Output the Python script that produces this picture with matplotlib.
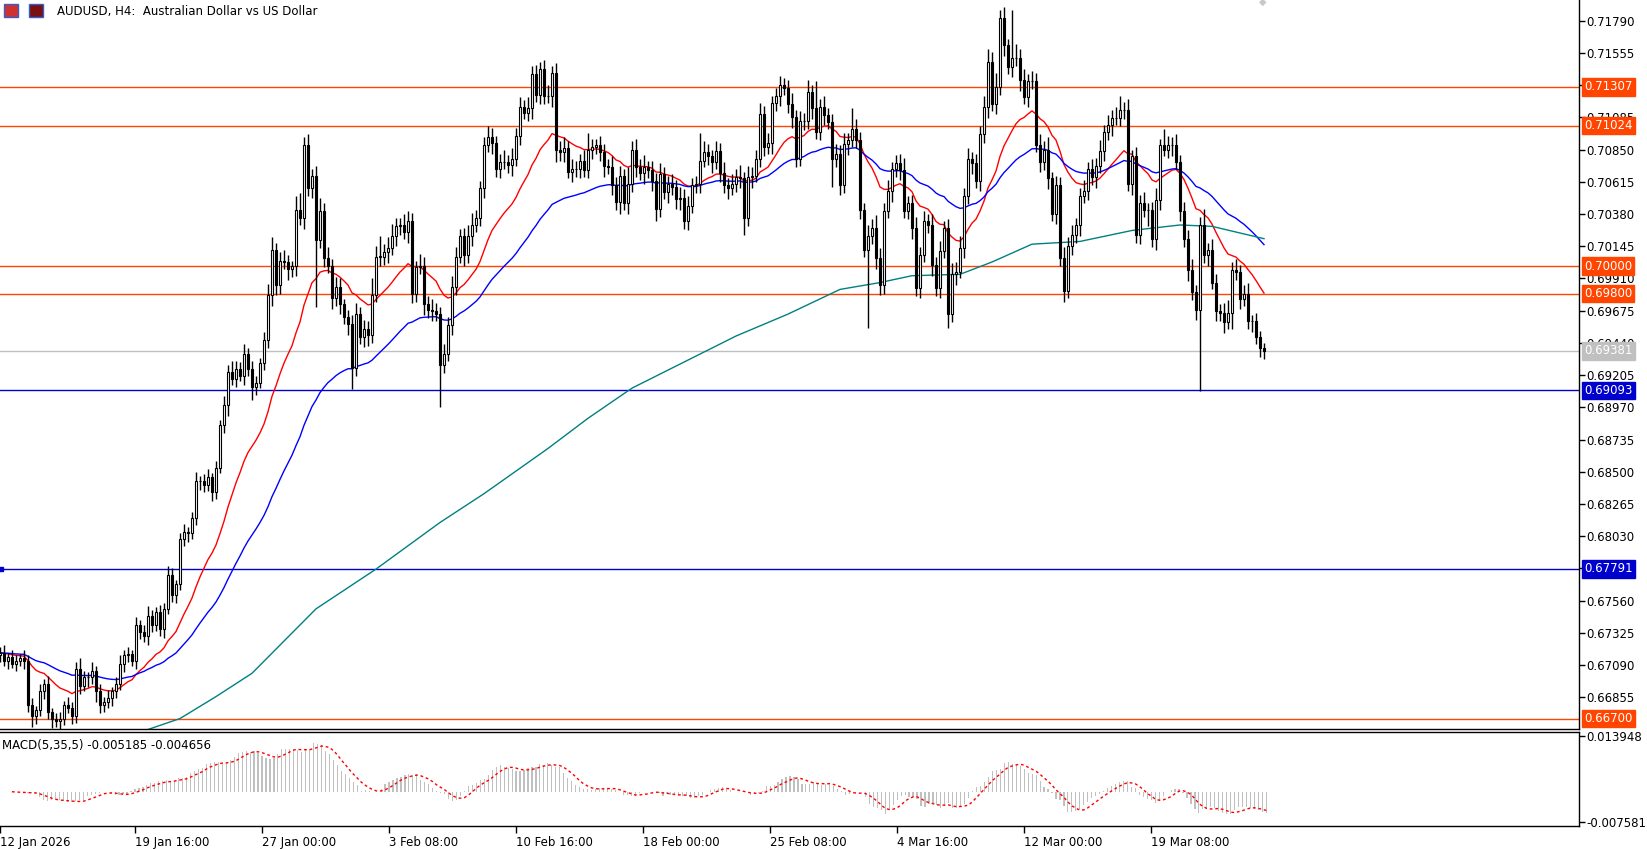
import numpy as np
import pandas as pd
import matplotlib
matplotlib.use("Agg")
import matplotlib.pyplot as plt
from matplotlib.patches import Rectangle

# ---------------- data (prices in 1/10000) ----------------
first_index = 3
closes = [
    6718,6712,6715,6710,6712,6714,6712,6680,6672,6676,
    6690,6695,6675,6670,6668,6670,6680,6678,6672,6706,
    6694,6700,6700,6705,6690,6680,6682,6685,6690,6695,
    6710,6716,6717,6712,6738,6733,6730,6745,6738,6748,
    6735,6750,6775,6760,6768,6801,6806,6805,6816,6843,
    6843,6840,6846,6835,6853,6884,6899,6923,6918,6925,
    6920,6936,6925,6912,6915,6929,6946,6979,7012,6986,
    7004,7003,6998,7000,7041,7035,7088,7057,7066,7019,
    7040,7006,7000,6977,6985,6972,6963,6958,6926,6965,
    6948,6954,6950,6979,7007,7007,7010,7013,7022,7029,
    7030,7025,7033,6980,6999,7000,6972,6968,6967,6965,
    6928,6936,6957,6985,7007,7022,7008,7022,7030,7035,
    7057,7088,7094,7090,7071,7076,7076,7074,7078,7095,
    7116,7112,7115,7140,7125,7144,7124,7124,7141,7085,
    7083,7086,7069,7071,7071,7077,7070,7085,7087,7088,
    7083,7073,7072,7059,7047,7066,7046,7060,7085,7072,
    7068,7072,7070,7062,7042,7067,7054,7060,7058,7049,
    7050,7033,7044,7059,7060,7077,7083,7080,7076,7084,
    7068,7059,7057,7060,7065,7064,7035,7065,7066,7078,
    7111,7087,7090,7119,7124,7132,7130,7118,7109,7078,
    7106,7106,7127,7115,7098,7116,7110,7105,7078,7082,
    7059,7089,7092,7100,7092,7041,7012,7022,7028,7006,
    6986,7040,7055,7071,7075,7070,7040,7046,7028,6984,
    7008,7033,7030,7001,6984,7011,7028,6965,6994,6996,
    7013,7051,7078,7075,7062,7096,7116,7149,7118,7131,
    7181,7161,7145,7152,7152,7136,7123,7135,7135,7088,
    7076,7085,7064,7038,7059,7006,6982,7015,7023,7030,
    7051,7055,7071,7065,7073,7084,7098,7103,7108,7108,
    7114,7114,7060,7080,7023,7046,7041,7041,7020,7048,
    7088,7085,7088,7088,7076,7040,7020,6997,6981,6968,
    7030,7008,7012,6988,6967,6966,6959,6966,6997,6996,
    6976,6980,6960,6960,6948,6940,6938.1,
]
first_open = 6716
upper_wick = [
    4,6,3,5,4,3,6,4,5,3, 5,4,6,3,4,5,3,6,4,5, 8,5,4,6,3,5,4,6,3,5,
    6,4,5,3,6,4,5,7,4,3, 5,4,6,5,3,4,6,4,5,7, 4,5,6,3,5,4,6,5,8,6,
    5,7,4,6,5,4,6,8,9,5, 6,8,5,4,10,12,6,8,5,7, 10,6,8,5,7,6,4,5,6,8,
    5,7,6,12,8,15,6,8,9,6, 5,8,7,6,5,9,7,6,8,6, 5,7,6,8,7,5,6,8,9,6,
    5,6,8,7,5,6,9,5,8,6, 7,5,8,6,7,5,6,8,5,7, 6,8,5,7,6,5,8,12,6,5,
    7,6,5,8,6,7,5,12,6,8, 6,9,5,7,6,8,5,6,7,5, 8,6,7,5,6,20,8,6,5,7,
    6,8,5,7,6,9,5,8,6,7, 8,6,7,5,6,7,5,6,8,5, 7,6,9,5,20,6,8,5,6,7,
    6,8,5,15,7,6,5,8,6,9, 7,6,8,5,6,7,9,5,6,8, 6,7,5,8,6,7,5,6,8,7,
    9,6,8,5,7,6,8,9,7,10, 6,8,5,35,10,6,8,5,7,6, 8,6,9,5,7,6,8,6,7,5,
    6,8,5,7,6,8,5,7,6,8, 10,6,8,5,7,6,8,5,6,9, 5,12,7,6,8,5,7,6,8,5,
    6,12,5,8,6,5,7,9,6,8, 5,6,8,4,6,5,4,
]
lower_wick = [
    5,4,6,3,5,4,6,5,8,6, 4,6,5,7,4,6,5,4,6,5, 6,4,7,5,8,6,5,4,6,5,
    4,6,5,4,6,5,4,6,5,4, 5,6,4,5,6,4,5,6,4,5, 6,5,4,6,5,4,6,8,5,6,
    4,7,5,10,6,4,5,6,8,7, 6,5,8,6,7,5,8,6,7,49, 6,7,5,8,6,7,5,8,16,6,
    5,7,8,6,5,7,6,8,5,7, 6,5,8,7,6,5,8,6,7,5, 31,6,5,7,6,5,8,6,7,5,
    6,7,5,8,6,7,5,6,8,5, 7,5,6,8,5,7,6,5,8,9, 6,7,5,8,6,7,5,6,7,5,
    6,8,5,7,6,9,5,8,6,7, 5,8,6,7,9,6,5,8,6,7, 8,6,7,5,6,7,5,6,8,5,
    7,6,8,5,6,7,12,6,8,5, 6,7,5,8,6,7,5,6,8,6, 5,7,6,8,5,6,7,5,20,6,
    7,6,8,5,6,7,5,57,6,8, 7,6,5,8,6,7,5,6,8,6, 7,5,6,8,6,7,5,10,6,8,
    5,7,6,8,5,7,6,8,5,7, 6,8,5,7,6,8,5,7,6,5, 7,6,8,5,7,6,8,5,7,6,
    8,5,7,6,8,5,7,6,8,5, 6,7,5,8,6,7,5,12,6,8, 7,5,6,8,5,7,6,8,6,7,
    59,6,8,5,7,6,8,5,12,6, 7,5,6,8,5,6,6,
]
ma200_idx = [40,48,57,66,82,97,113,124,140,150,161,174,187,200,213,223,231,243,251,261,273,286,298,306,319]
ma200_val = [0.6662,0.6670,0.6686,0.6703,0.6750,0.6779,0.6813,0.6834,0.6867,0.6889,0.6911,0.6930,0.6949,
             0.6965,0.6983,0.6988,0.6993,0.6994,0.7003,0.7016,0.7018,0.7026,0.7030,0.7029,0.7020]
orange_levels = [0.71307, 0.71024, 0.70000, 0.69800, 0.66700]
blue_levels = [0.69093, 0.67791]
bid_level = 0.69381
price_ticks = [0.71790,0.71555,0.71320,0.71085,0.70850,0.70615,0.70380,0.70145,0.69910,0.69675,
               0.69440,0.69205,0.68970,0.68735,0.68500,0.68265,0.68030,0.67795,0.67560,0.67325,
               0.67090,0.66855]
date_idx = [0,34,66,98,130,162,194,226,258,290]
date_lbl = ["12 Jan 2026","19 Jan 16:00","27 Jan 00:00","3 Feb 08:00","10 Feb 16:00",
            "18 Feb 00:00","25 Feb 08:00","4 Mar 16:00","12 Mar 00:00","19 Mar 08:00"]
macd_text = "MACD(5,35,5) -0.005185 -0.004656"

# ---------------- derived ----------------
c = np.array(closes) / 10000.0
o = np.concatenate([[first_open / 10000.0], c[:-1]])
h = np.maximum(o, c) + np.array(upper_wick) / 10000.0
l = np.minimum(o, c) - np.array(lower_wick) / 10000.0
idx = np.arange(first_index, first_index + len(c))
s = pd.Series(c)
ema_fast = s.ewm(span=20, adjust=False).mean()
ema_slow = s.ewm(span=50, adjust=False).mean()
macd_main = s.ewm(span=5, adjust=False).mean() - s.ewm(span=35, adjust=False).mean()
macd_sig = macd_main.rolling(5, min_periods=1).mean()

W, H = 1647, 849
fig = plt.figure(figsize=(W / 100, H / 100), dpi=100)
plt.rcParams['font.family'] = ['DejaVu Sans']

def fx(x): return x / W
def fy(y): return 1 - y / H

AX_R = 1579
ax = fig.add_axes([0, fy(729), fx(AX_R), (729) / H])
axm = fig.add_axes([0, fy(826), fx(AX_R), (826 - 732) / H])

i0 = 3
i1 = 3 + AX_R / 4.0
for a in (ax, axm):
    a.set_xlim(i0, i1)
    a.spines['left'].set_visible(False)
    a.set_facecolor('white')
    for sp in ('right', 'bottom', 'top'):
        a.spines[sp].set_color('black')
        a.spines[sp].set_linewidth(1)
ax.spines['top'].set_visible(False)

pmin = 0.71790 - 708.3 * 0.00007294
pmax = 0.71790 + 20.7 * 0.00007294
ax.set_ylim(pmin, pmax)

# levels
for lv in orange_levels:
    ax.axhline(lv, color='#FF4500', lw=1, zorder=1)
for lv in blue_levels:
    ax.axhline(lv, color='#0000CD', lw=1, zorder=1)
ax.axhline(bid_level, color='#C0C0C0', lw=1, zorder=1)
ax.plot([i0 + 0.3], [blue_levels[1]], marker='s', ms=3, color='#0000CD', clip_on=False)

# MAs
ax.plot(idx, ema_fast, color='#FF0000', lw=1, zorder=2)
ax.plot(idx, ema_slow, color='#0000FF', lw=1, zorder=2)
ax.plot(ma200_idx, ma200_val, color='#008080', lw=1, zorder=2)

# candles
ax.vlines(idx, l, h, color='black', lw=1, zorder=3)
bull = c >= o
body_h = np.maximum(np.abs(c - o), 0.000012)
ax.bar(idx[bull], body_h[bull], bottom=np.minimum(o, c)[bull], width=0.72,
       facecolor='white', edgecolor='black', lw=0.8, zorder=4)
ax.bar(idx[~bull], body_h[~bull], bottom=np.minimum(o, c)[~bull], width=0.72,
       facecolor='black', edgecolor='black', lw=0.8, zorder=4)

ax.yaxis.tick_right()
ax.set_yticks(price_ticks)
ax.set_yticklabels([f"{t:.5f}" for t in price_ticks])
ax.tick_params(axis='y', direction='out', length=4, width=1, pad=1, labelsize=8.5, colors='black')
ax.set_xticks([])

# MACD panel
axm.bar(idx, macd_main, width=0.3, color='#C0C0C0', zorder=2)
axm.plot(idx, macd_sig, color='#FF0000', lw=1, linestyle=(0, (2, 2)), zorder=3)
axm.set_ylim(-0.008582, 0.01495)
axm.yaxis.tick_right()
axm.set_yticks([0.013948, -0.007581])
axm.set_yticklabels(["0.013948", "-0.007581"])
axm.tick_params(axis='y', direction='out', length=4, width=1, pad=1, labelsize=8.5)
axm.set_xticks([i for i in date_idx])
axm.set_xticklabels([])
axm.tick_params(axis='x', direction='out', length=5, width=1)
for di, dl in zip(date_idx, date_lbl):
    axm.text(di, -0.0112, dl, ha='left', va='top', fontsize=8.5, clip_on=False)
fig.text(fx(2), fy(746), macd_text, fontsize=8.5, ha='left', va='center')

# right-side level labels
def lvl_label(price, txt, fc):
    y = (price - pmin) / (pmax - pmin) * 729
    fig.text(fx(1584), (H - 729 + y) / H, txt, fontsize=8.5, color='white', ha='left', va='center',
             bbox=dict(boxstyle='square,pad=0.18', fc=fc, ec=fc), zorder=10)
for lv in orange_levels:
    lvl_label(lv, f"{lv:.5f}", '#FF4500')
for lv in blue_levels:
    lvl_label(lv, f"{lv:.5f}", '#0000CD')
lvl_label(bid_level, f"{bid_level:.5f}", '#C0C0C0')

# title & icons
fig.patches.append(Rectangle((fx(4), fy(17)), fx(14), 13 / H, transform=fig.transFigure,
                             fc='#D03030', ec='#3060D0', lw=1))
fig.patches.append(Rectangle((fx(29), fy(17)), fx(14), 13 / H, transform=fig.transFigure,
                             fc='#7A1010', ec='#3060D0', lw=1))
fig.text(fx(57), fy(11), "AUDUSD, H4:  Australian Dollar vs US Dollar", fontsize=8.5,
         ha='left', va='center')
fig.text(fx(1263), fy(2), "\u25C6", fontsize=7, color='#C8C8C8', ha='center', va='center')

fig.savefig("out.png", dpi=100, facecolor='white')
